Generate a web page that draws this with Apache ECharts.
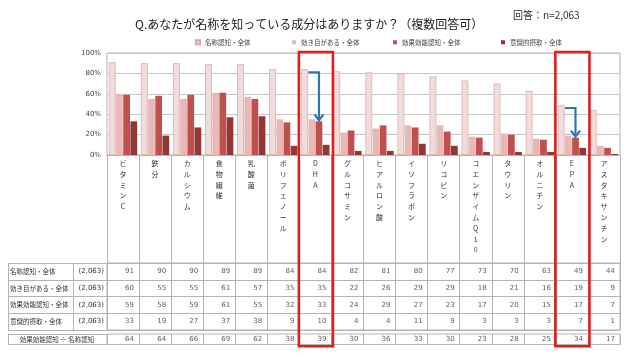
<!DOCTYPE html>
<html><head><meta charset="utf-8">
<script src="https://cdn.jsdelivr.net/npm/echarts@6/dist/echarts.min.js"></script>
<style>html,body{margin:0;padding:0;background:#fff}#c{width:640px;height:358px}</style>
</head><body><div id="c"></div>
<script>
const categories = ['ビタミンC','鉄分','カルシウム','食物繊維','乳酸菌','ポリフェノール','DHA','グルコサミン','ヒアルロン酸','イソフラボン','リコピン','コエンザイムQ10','タウリン','オルニチン','EPA','アスタキサンチン'];
const seriesNames = ['名称認知・全体','効き目がある・全体','効果効能認知・全体','意識的摂取・全体'];
const nameAware = [91,90,90,89,89,84,84,82,81,80,77,73,70,63,49,44];
const effective = [60,55,55,61,57,35,35,22,26,29,29,18,21,16,19,9];
const efficacyAware = [59,58,59,61,55,32,33,24,29,27,23,17,20,15,17,7];
const intentional = [33,19,27,37,38,9,10,4,4,11,9,3,3,3,7,1];
const ratio = [64,64,66,69,62,38,39,30,36,33,30,23,28,25,34,17];
const sampleSize = '(2,063)';
const ratioLabel = '効果効能認知 ÷ 名称認知';
const highlighted = ['DHA','EPA'];
const titleText = 'Q.あなたが名称を知っている成分はありますか？（複数回答可）';
const nText = '回答：n=2,063';
const yMin = 0, yMax = 100, yStep = 20;

const values = [nameAware, effective, efficacyAware, intentional];
const colors = ['#f2dcdb','#e6b9b8','#c0504d','#943634'];
const FONT = '"Noto Sans CJK JP", "Noto Sans", sans-serif';
const lineC = '#b4b4b4';
const BAR_GAP = 0.06, CAT_GAP = 0.12;

const chart = echarts.init(document.getElementById('c'), null, {renderer:'canvas'});

const legendX = [190, 287, 388, 496];
const legends = seriesNames.map((n, i) => ({
  data: [n], left: legendX[i], top: 34, itemWidth: 4, itemHeight: 4, itemGap: 3,
  icon: 'rect', textStyle: {fontSize: 6.5, color: '#444', fontFamily: FONT},
  selectedMode: false
}));

const bars = seriesNames.map((n, i) => ({
  type: 'bar', name: n, xAxisIndex: 0, yAxisIndex: 0, data: values[i],
  barGap: (BAR_GAP*100)+'%', barCategoryGap: (CAT_GAP*100)+'%',
  itemStyle: {color: colors[i], borderColor: i === 0 ? '#d6a8a7' : colors[i], borderWidth: i === 0 ? 0.7 : 0},
  emphasis: {disabled: true}, animation: false
}));

const tableData = [];
seriesNames.forEach((row, r) => categories.forEach((c, k) => tableData.push([c, row, values[r][k]])));
const ratioData = categories.map((c, k) => [c, ratioLabel, ratio[k]]);

const cellLabel = {show: true, position: 'inside', align: 'right', verticalAlign: 'middle', offset: [11, 0],
  formatter: p => p.value[2], fontSize: 7, color: '#333', fontFamily: 'DejaVu Sans, sans-serif'};

const option = {
  animation: false,
  title: [
    {text: titleText, left: 130, top: 13, textStyle: {fontSize: 12, fontWeight: 'normal', color: '#222', fontFamily: FONT}},
    {text: nText, left: 508, top: 5, textStyle: {fontSize: 10, fontWeight: 'normal', color: '#333', fontFamily: FONT}}
  ],
  legend: legends,
  grid: [
    {left: 107, right: 20, top: 53, height: 102, show: true, borderColor: lineC, borderWidth: 1},
    {left: 107, right: 20, top: 263, height: 67, show: true, borderColor: lineC, borderWidth: 1},
    {left: 107, right: 20, top: 334, height: 10.5, show: true, borderColor: lineC, borderWidth: 1}
  ],
  xAxis: [
    {type: 'category', gridIndex: 0, data: categories,
     axisLine: {lineStyle: {color: lineC}},
     axisTick: {show: true, length: 108, interval: 0, lineStyle: {color: lineC}},
     axisLabel: {interval: 0, margin: 3, fontSize: 7, lineHeight: 10.8, color: '#333', fontFamily: FONT, verticalAlign: 'top',
       formatter: v => v.split('').join('\n')}},
    {type: 'category', gridIndex: 1, data: categories, axisLine: {show: false}, axisTick: {show: false}, axisLabel: {show: false},
     splitLine: {show: true, interval: 0, lineStyle: {color: lineC}}},
    {type: 'category', gridIndex: 2, data: categories, axisLine: {show: false}, axisTick: {show: false}, axisLabel: {show: false},
     splitLine: {show: true, interval: 0, lineStyle: {color: lineC}}}
  ],
  yAxis: [
    {type: 'value', gridIndex: 0, min: yMin, max: yMax, interval: yStep,
     axisLine: {show: false}, axisTick: {show: false},
     axisLabel: {formatter: '{value}%', fontSize: 7, color: '#444', margin: 6, fontFamily: 'DejaVu Sans, sans-serif'},
     splitLine: {lineStyle: {color: '#c8c8c8'}}},
    {type: 'category', gridIndex: 1, data: seriesNames, inverse: true,
     axisLine: {show: false},
     axisTick: {show: true, length: 99, interval: 0, lineStyle: {color: lineC}},
     splitLine: {show: true, interval: 0, lineStyle: {color: lineC}},
     axisLabel: {interval: 0, margin: 3, formatter: v => '{a|' + v + '}{b|' + sampleSize + '}',
       rich: {a: {width: 64, align: 'left', fontSize: 6.5, color: '#333', fontFamily: FONT},
              b: {width: 30, align: 'right', fontSize: 7, color: '#333', fontFamily: 'DejaVu Sans, sans-serif'}}}},
    {type: 'category', gridIndex: 1, data: seriesNames, inverse: true, position: 'left', offset: 99,
     axisLine: {show: true, lineStyle: {color: lineC}}, axisTick: {show: false}, axisLabel: {show: false}, splitLine: {show: false}},
    {type: 'category', gridIndex: 1, data: seriesNames, inverse: true, position: 'left', offset: 34,
     axisLine: {show: true, lineStyle: {color: lineC}}, axisTick: {show: false}, axisLabel: {show: false}, splitLine: {show: false}},
    {type: 'category', gridIndex: 2, data: [ratioLabel],
     axisLine: {show: false},
     axisTick: {show: true, length: 99, interval: 0, lineStyle: {color: lineC}},
     axisLabel: {margin: 2, formatter: v => '{c|' + v + '}',
       rich: {c: {width: 96, align: 'center', fontSize: 6.5, color: '#333', fontFamily: FONT}}}},
    {type: 'category', gridIndex: 2, data: [ratioLabel], position: 'left', offset: 99,
     axisLine: {show: true, lineStyle: {color: lineC}}, axisTick: {show: false}, axisLabel: {show: false}}
  ],
  series: bars.concat([
    {type: 'scatter', xAxisIndex: 1, yAxisIndex: 1, data: tableData, symbol: 'rect', symbolSize: 1,
     itemStyle: {color: 'rgba(0,0,0,0)'}, label: cellLabel, silent: true},
    {type: 'scatter', xAxisIndex: 2, yAxisIndex: 4, data: ratioData, symbol: 'rect', symbolSize: 1,
     itemStyle: {color: 'rgba(0,0,0,0)'}, label: cellLabel, silent: true}
  ])
};
chart.setOption(option);

// highlight boxes and arrows, positioned via the chart's own scales
const band = chart.convertToPixel({xAxisIndex: 0}, categories[1]) - chart.convertToPixel({xAxisIndex: 0}, categories[0]);
const barW = band * (1 - CAT_GAP) / (4 + 3 * BAR_GAP);
const groupW = 4 * barW + 3 * barW * BAR_GAP;
const topY = chart.convertToPixel({yAxisIndex: 0}, yMax);
const ratioCenter = chart.convertToPixel({yAxisIndex: 4}, ratioLabel);
const graphics = [];
highlighted.forEach(name => {
  const k = categories.indexOf(name);
  const cx = chart.convertToPixel({xAxisIndex: 0}, name);
  graphics.push({type: 'rect', z: 100, shape: {x: cx - band / 2 - 0.5, y: topY - 1, width: band + 2, height: ratioCenter + 8 - topY},
    style: {fill: null, stroke: '#e01e1e', lineWidth: 2.6}});
  const left = cx - groupW / 2;
  const x0 = left + barW * (1 + BAR_GAP);
  const x1 = left + 2 * barW * (1 + BAR_GAP) + barW / 2;
  const y0 = chart.convertToPixel({yAxisIndex: 0}, nameAware[k]) + 3;
  const tipY = chart.convertToPixel({yAxisIndex: 0}, efficacyAware[k]) - 1;
  graphics.push({type: 'polyline', z: 101, shape: {points: [[x0, y0], [x1, y0], [x1, tipY]]},
    style: {stroke: '#2b78b8', lineWidth: 2.2, fill: null}});
  graphics.push({type: 'polyline', z: 101, shape: {points: [[x1 - 4.5, tipY - 6], [x1, tipY], [x1 + 4.5, tipY - 6]]},
    style: {stroke: '#2b78b8', lineWidth: 2.2, fill: null}});
});
chart.setOption({graphic: graphics});
</script></body></html>
